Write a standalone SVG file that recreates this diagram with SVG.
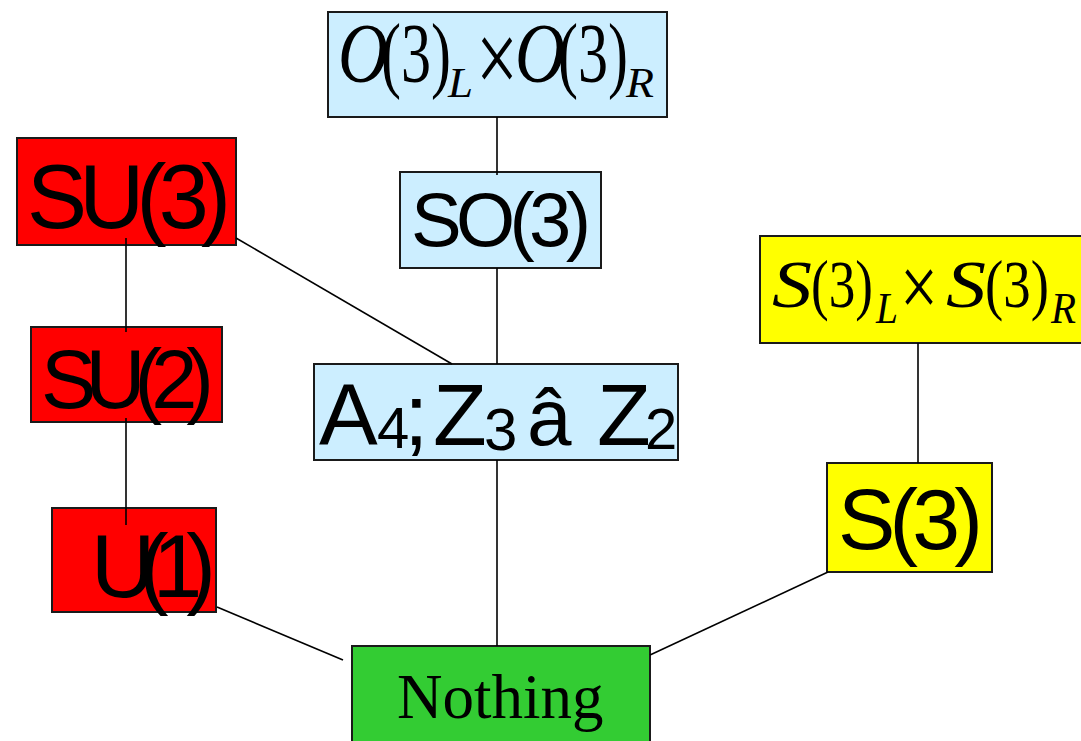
<svg xmlns="http://www.w3.org/2000/svg" width="1081" height="741" viewBox="0 0 1081 741">
<style>
.box{stroke:#1a1a1a;stroke-width:2}
.red{fill:#ff0000}
.blue{fill:#cceeff}
.yellow{fill:#ffff00}
.green{fill:#33cc33}
.sans{font-family:"Liberation Sans",Arial,sans-serif;fill:#000}
.serif{font-family:"Liberation Serif","Times New Roman",serif;fill:#000}
.it{font-style:italic}
.conn line{stroke:#000;stroke-width:1.6}
</style>
<rect width="1081" height="741" fill="#fff"/>
<g id="node-O3xO3">
<rect class="box blue" x="328" y="12" width="339" height="105"/>
<text class="serif it" x="338" y="82" font-size="84" textLength="50" lengthAdjust="spacingAndGlyphs">O</text>
<text class="serif" x="381" y="82" font-size="84" textLength="70" lengthAdjust="spacingAndGlyphs">(3)</text>
<text class="serif it" x="448" y="97" font-size="42" textLength="25" lengthAdjust="spacingAndGlyphs">L</text>
<text class="serif" x="476" y="93" font-size="104" textLength="42" lengthAdjust="spacingAndGlyphs">×</text>
<text class="serif it" x="515" y="82" font-size="84" textLength="50" lengthAdjust="spacingAndGlyphs">O</text>
<text class="serif" x="558" y="82" font-size="84" textLength="70" lengthAdjust="spacingAndGlyphs">(3)</text>
<text class="serif it" x="626" y="97" font-size="42" textLength="28" lengthAdjust="spacingAndGlyphs">R</text>
</g>
<g id="node-SO3">
<rect class="box blue" x="400" y="172" width="201" height="96"/>
<text class="sans" x="411" y="246" font-size="76" textLength="180" lengthAdjust="spacing">SO(3)</text>
</g>
<g id="node-SU3">
<rect class="box red" x="17" y="138" width="219" height="107"/>
<text class="sans" x="27" y="228" font-size="90" textLength="204" lengthAdjust="spacing">SU(3)</text>
</g>
<g id="node-SU2">
<rect class="box red" x="31" y="327" width="191" height="95"/>
<text class="sans" x="41" y="408" font-size="83" textLength="173" lengthAdjust="spacing">SU(2)</text>
</g>
<g id="node-U1">
<rect class="box red" x="52" y="508" width="164" height="104"/>
<text class="sans" x="91" y="597" font-size="89">U</text>
<text class="sans" x="139" y="597" font-size="89" textLength="77" lengthAdjust="spacing">(1)</text>
</g>
<g id="node-A4">
<rect class="box blue" x="314" y="364" width="364" height="96"/>
<text class="sans" y="445" font-size="88"><tspan x="319">A</tspan><tspan x="377" y="448" font-size="58">4</tspan><tspan x="404" y="445">;</tspan><tspan x="433">Z</tspan><tspan x="484" y="450" font-size="60">3</tspan><tspan x="527" y="445" font-size="80">â</tspan><tspan x="597" y="445">Z</tspan><tspan x="645" y="449" font-size="58">2</tspan></text>
</g>
<g id="node-S3xS3">
<rect class="box yellow" x="760" y="236" width="330" height="107"/>
<text class="serif it" x="772" y="307" font-size="68" textLength="40" lengthAdjust="spacingAndGlyphs">S</text>
<text class="serif" x="811" y="307" font-size="68" textLength="62" lengthAdjust="spacingAndGlyphs">(3)</text>
<text class="serif it" x="876" y="323" font-size="44" textLength="22" lengthAdjust="spacingAndGlyphs">L</text>
<text class="serif" x="900" y="316" font-size="86" textLength="38" lengthAdjust="spacingAndGlyphs">×</text>
<text class="serif it" x="946" y="307" font-size="68" textLength="40" lengthAdjust="spacingAndGlyphs">S</text>
<text class="serif" x="985" y="307" font-size="68" textLength="64" lengthAdjust="spacingAndGlyphs">(3)</text>
<text class="serif it" x="1051" y="323" font-size="44" textLength="25" lengthAdjust="spacingAndGlyphs">R</text>
</g>
<g id="node-S3">
<rect class="box yellow" x="827" y="463" width="165" height="109"/>
<text class="sans" x="838" y="549" font-size="86" textLength="145" lengthAdjust="spacing">S(3)</text>
</g>
<g id="node-Nothing">
<rect class="box green" x="352" y="646" width="298" height="100"/>
<text class="serif" x="397" y="718" font-size="63">Nothing</text>
</g>
<g id="connectors" class="conn">
<line x1="497" y1="117" x2="497" y2="175"/>
<line x1="126" y1="238" x2="126" y2="332"/>
<line x1="126" y1="418" x2="126" y2="525"/>
<line x1="236" y1="238" x2="452" y2="364"/>
<line x1="497" y1="268" x2="497" y2="364"/>
<line x1="497" y1="460" x2="497" y2="646"/>
<line x1="918" y1="343" x2="918" y2="463"/>
<line x1="828" y1="572" x2="650" y2="655"/>
<line x1="217" y1="607" x2="343" y2="660"/>
</g>
</svg>
